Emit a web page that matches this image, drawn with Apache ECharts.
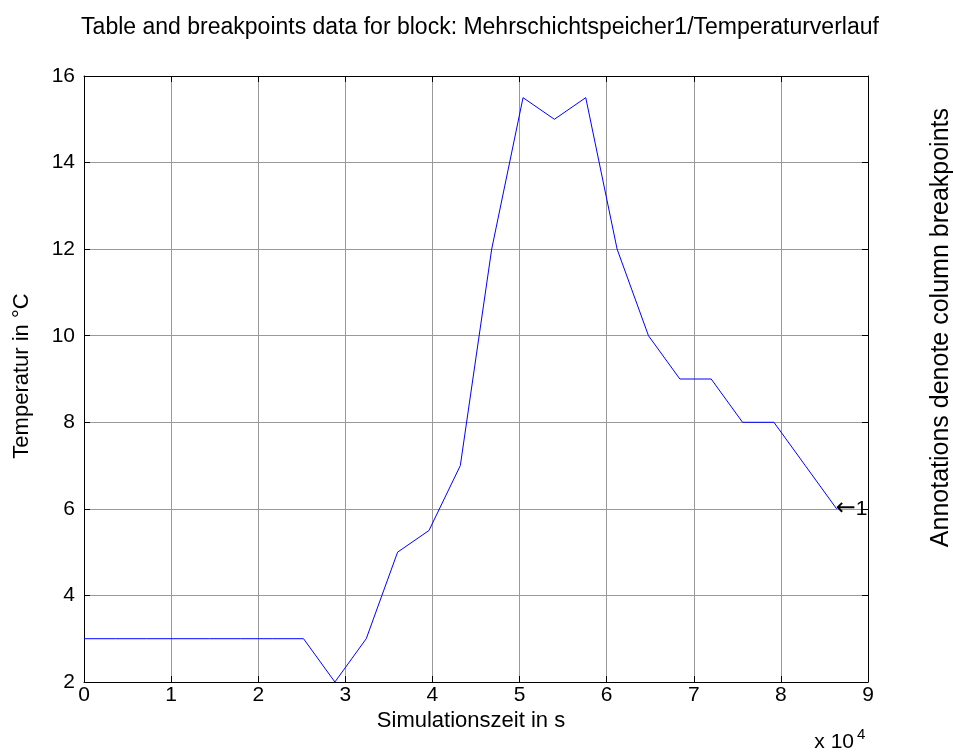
<!DOCTYPE html>
<html>
<head>
<meta charset="utf-8">
<script src="https://cdn.jsdelivr.net/npm/echarts@6/dist/echarts.min.js"></script>
<style>
  html, body { margin: 0; padding: 0; background: #fff; overflow: hidden; }
  #chart { width: 954px; height: 756px; }
</style>
</head>
<body>
<div id="chart"></div>
<script>
// Breakpoints: simulation time (s) and temperature (°C)
const timeSeconds = [0, 3600, 7200, 10800, 14400, 18000, 21600, 25200, 28800, 32400,
  36000, 39600, 43200, 46800, 50400, 54000, 57600, 61200, 64800, 68400,
  72000, 75600, 79200, 82800, 86400];
const temperature = [3, 3, 3, 3, 3, 3, 3, 3, 2, 3,
  5, 5.5, 7, 12, 15.5, 15, 15.5, 12, 10, 9,
  9, 8, 8, 7, 6];
const xTicks = [0, 1, 2, 3, 4, 5, 6, 7, 8, 9];       // in units of 10^4 s
const yTicks = [2, 4, 6, 8, 10, 12, 14, 16];
const annotationLabel = '1';

const font = '"Liberation Sans", Arial, sans-serif';
const chart = echarts.init(document.getElementById('chart'));

const points = timeSeconds.map((t, i) => [t, temperature[i]]);
const lastPoint = points[points.length - 1];

const axisCommon = {
  axisLine: { show: true, onZero: false, lineStyle: { color: '#000', width: 1 } },
  axisTick: { show: true, inside: true, length: 6, lineStyle: { color: '#000' } },
};
const gridLine = { show: true, lineStyle: { color: '#999', width: 1 } };

chart.setOption({
  animation: false,
  textStyle: { fontFamily: font },
  grid: { left: 84, right: 86, top: 76, bottom: 74, containLabel: false },
  xAxis: [{
    type: 'value', min: 0, max: 90000, interval: 10000,
    ...axisCommon,
    axisLabel: {
      color: '#000', fontSize: 21, margin: 3, fontFamily: font,
      formatter: v => String(xTicks[Math.round(v / 10000)])
    },
    splitLine: gridLine
  }, {
    type: 'value', min: 0, max: 90000, interval: 10000, position: 'top',
    ...axisCommon,
    axisLabel: { show: false }, splitLine: { show: false }
  }],
  yAxis: [{
    type: 'value', min: yTicks[0], max: yTicks[yTicks.length - 1], interval: 2,
    ...axisCommon,
    axisLabel: { color: '#000', fontSize: 21, margin: 9, fontFamily: font },
    splitLine: gridLine
  }, {
    type: 'value', min: yTicks[0], max: yTicks[yTicks.length - 1], interval: 2, position: 'right',
    ...axisCommon,
    axisLabel: { show: false }, splitLine: { show: false }
  }],
  graphic: [{
    // figure title
    type: 'text', x: 480, y: 28,
    style: {
      text: 'Table and breakpoints data for block: Mehrschichtspeicher1/Temperaturverlauf',
      font: '23px ' + font, fill: '#000', textAlign: 'center', textVerticalAlign: 'middle'
    }
  }, {
    // x axis label
    type: 'text', x: 471, y: 721,
    style: {
      text: 'Simulationszeit in s', font: '22px ' + font, fill: '#000',
      textAlign: 'center', textVerticalAlign: 'middle'
    }
  }, {
    // y axis label
    type: 'text', x: 22, y: 376, rotation: Math.PI / 2,
    style: {
      text: 'Temperatur in °C', font: '22px ' + font, fill: '#000',
      textAlign: 'center', textVerticalAlign: 'middle'
    }
  }, {
    // annotation legend on the right, read bottom to top, ending near the top of the axes
    type: 'text', x: 941, y: 108, rotation: Math.PI / 2,
    style: {
      text: 'Annotations denote column breakpoints', font: '25px ' + font, fill: '#000',
      textAlign: 'right', textVerticalAlign: 'middle'
    }
  }, {
    // axis exponent
    type: 'text', x: 854, y: 753,
    style: { text: 'x 10', font: '21px ' + font, fill: '#000', textAlign: 'right', textVerticalAlign: 'bottom' }
  }, {
    type: 'text', x: 857, y: 742,
    style: { text: '4', font: '15px ' + font, fill: '#000', textAlign: 'left', textVerticalAlign: 'bottom' }
  }],
  series: [{
    type: 'line',
    data: points,
    symbol: 'none',
    lineStyle: { color: '#0000ff', width: 1 },
    markPoint: {
      symbol: 'circle', symbolSize: 0,
      data: [{
        coord: lastPoint,
        label: {
          show: true, position: 'right', distance: 0, offset: [-1, 0],
          formatter: '{a|\u2190}{b|' + annotationLabel + '}',
          rich: {
            a: { fontFamily: '"DejaVu Sans", sans-serif', fontSize: 24, color: '#000' },
            b: { fontFamily: font, fontSize: 21, color: '#000' }
          }
        }
      }]
    }
  }]
});
</script>
</body>
</html>
